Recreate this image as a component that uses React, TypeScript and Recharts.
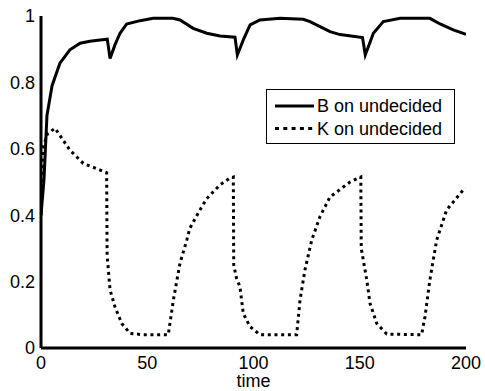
import React from "react";
import { LineChart, Line, XAxis, YAxis, Legend } from "recharts";

// B on undecided (solid)
const bTime = [
  0, 1.4, 2.8, 5.2, 8.9, 13.6, 18.4, 23, 27.8, 31.2, 32.5, 34.8, 37.2, 40.3, 46.6,
  52.8, 62, 65.4, 71.6, 78, 84.2, 91.3, 92.4, 93.8, 95.2, 98.4, 103, 112.5, 123.4,
  126.6, 136, 140.7, 151.3, 152.6, 154.5, 156.4, 161.1, 169, 183, 187.8, 194, 200,
];
const bValue = [
  0.4, 0.506, 0.7, 0.79, 0.858, 0.898, 0.918, 0.924, 0.928, 0.93, 0.872, 0.913,
  0.948, 0.976, 0.986, 0.993, 0.993, 0.988, 0.963, 0.948, 0.94, 0.936, 0.883, 0.905,
  0.928, 0.973, 0.988, 0.993, 0.99, 0.983, 0.953, 0.944, 0.935, 0.883, 0.915, 0.948,
  0.983, 0.993, 0.993, 0.976, 0.958, 0.945,
];

// K on undecided (dotted)
const kTime = [
  0, 0.8, 3, 6.6, 10, 13.6, 19.9, 27.8, 30.9, 31.1, 32.5, 34.8, 38, 41.9, 48, 59.9,
  62.3, 65.4, 68.6, 70, 74.8, 78, 84.2, 88.9, 90.5, 90.7, 92, 93.6, 95.2, 98.4, 103,
  120.3, 121.9, 124.2, 127.4, 131.3, 136, 145.4, 150.5, 150.7, 153.3, 154.8, 158,
  162.7, 179.1, 180.7, 183, 186.2, 190.9, 198.7, 200,
];
const kValue = [
  0.4, 0.6, 0.645, 0.662, 0.63, 0.596, 0.556, 0.536, 0.528, 0.28, 0.175, 0.124,
  0.074, 0.044, 0.04, 0.04, 0.145, 0.255, 0.325, 0.36, 0.416, 0.45, 0.491, 0.512,
  0.515, 0.25, 0.21, 0.185, 0.104, 0.064, 0.04, 0.04, 0.145, 0.235, 0.325, 0.396,
  0.455, 0.5, 0.515, 0.3, 0.205, 0.135, 0.074, 0.042, 0.04, 0.094, 0.205, 0.325,
  0.416, 0.476, 0.48,
];

const xTicks = [0, 50, 100, 150, 200];
const yTicks = [0, 0.2, 0.4, 0.6, 0.8, 1];

const bData = bTime.map((t, i) => ({ t, v: bValue[i] }));
const kData = kTime.map((t, i) => ({ t, v: kValue[i] }));

const FONT = "'Liberation Sans', Arial, Helvetica, sans-serif";

const renderLegend = () => (
  <div
    style={{
      position: "relative",
      width: 187,
      height: 53,
      border: "1px solid #000",
      background: "#fff",
      fontFamily: FONT,
      fontSize: 18,
      color: "#000",
    }}
  >
    <svg width={50} height={53} style={{ position: "absolute", left: 0, top: 0 }}>
      <line x1={8} x2={47} y1={16} y2={16} stroke="#000" strokeWidth={3} />
      <line x1={8} x2={47} y1={38.5} y2={38.5} stroke="#000" strokeWidth={3} strokeDasharray="4 4.3" />
    </svg>
    <div style={{ position: "absolute", left: 50, top: 5, lineHeight: "22px", whiteSpace: "nowrap" }}>
      B on undecided
    </div>
    <div style={{ position: "absolute", left: 50, top: 27.5, lineHeight: "22px", whiteSpace: "nowrap" }}>
      K on undecided
    </div>
  </div>
);

export default function App() {
  return (
    <div style={{ position: "absolute", left: 0, top: 0, background: "#fff" }}>
      <LineChart
        width={485}
        height={391}
        margin={{ top: 16, right: 19, left: 0, bottom: 0 }}
      >
        <XAxis
          dataKey="t"
          type="number"
          domain={[0, 200]}
          ticks={xTicks}
          allowDataOverflow
          axisLine={{ stroke: "#000", strokeWidth: 3 }}
          tickLine={false}
          tickSize={4}
          tickMargin={4}
          height={43}
          tick={{ fill: "#000", fontSize: 18, fontFamily: FONT }}
          label={{ value: "time", position: "insideBottom", offset: 4, fill: "#000", fontSize: 18, fontFamily: FONT }}
        />
        <YAxis
          type="number"
          domain={[0, 1]}
          ticks={yTicks}
          allowDataOverflow
          width={41}
          axisLine={{ stroke: "#000", strokeWidth: 3 }}
          tickLine={false}
          tickSize={4}
          tickMargin={2}
          tick={{ fill: "#000", fontSize: 18, fontFamily: FONT }}
        />
        <Legend
          layout="horizontal"
          verticalAlign="middle"
          align="center"
          content={renderLegend}
          wrapperStyle={{ position: "absolute", left: 266, top: 89, width: 189, height: 55 }}
        />
        <Line
          data={bData}
          dataKey="v"
          name="B on undecided"
          type="linear"
          stroke="#000"
          strokeWidth={3}
          dot={false}
          isAnimationActive={false}
        />
        <Line
          data={kData}
          dataKey="v"
          name="K on undecided"
          type="linear"
          stroke="#000"
          strokeWidth={3}
          strokeDasharray="3 3.7"
          dot={false}
          isAnimationActive={false}
        />
      </LineChart>
    </div>
  );
}
